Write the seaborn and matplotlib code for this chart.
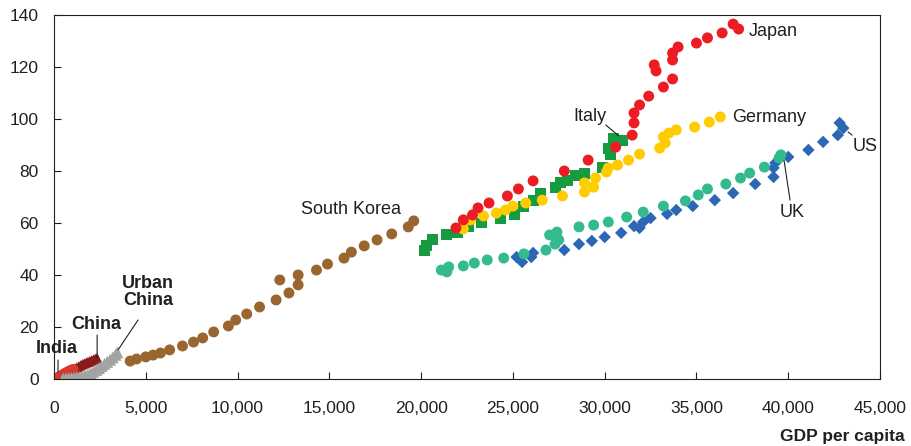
import pandas as pd
import seaborn as sns
import matplotlib.pyplot as plt
from matplotlib.ticker import FuncFormatter

# GDP per capita (x) vs. value (y)
india_x = [150, 200, 250, 290, 330, 370, 410, 450, 490, 530, 570, 610, 650, 700, 750, 800, 860, 920, 980, 1040]
india_y = [0.2, 0.4, 0.5, 0.7, 0.8, 1.0, 1.1, 1.3, 1.5, 1.7, 1.9, 2.0, 2.2, 2.4, 2.6, 2.8, 3.0, 3.2, 3.4, 3.6]

china_x = [150, 250, 350, 450, 550, 650, 750, 850, 950, 1050, 1150, 1250, 1350, 1450, 1550, 1650, 1750, 1850, 1950, 2050, 2150, 2250, 2350]
china_y = [0.3, 0.6, 0.9, 1.3, 1.7, 2.1, 2.5, 2.9, 3.3, 3.7, 4.1, 4.5, 4.9, 5.3, 5.7, 6.0, 6.3, 6.6, 6.9, 7.2, 7.5, 7.8, 8.1]

urban_x = [500, 650, 800, 950, 1100, 1250, 1400, 1550, 1700, 1850, 2000, 2150, 2300, 2450, 2600, 2750, 2900, 3050, 3200, 3350, 3450]
urban_y = [0.1, 0.2, 0.3, 0.4, 0.5, 0.6, 0.8, 1.0, 1.3, 1.7, 2.2, 2.8, 3.5, 4.2, 5.0, 5.8, 6.6, 7.4, 8.3, 9.3, 10.2]

korea_x = [4150, 4500, 5000, 5400, 5800, 6300, 7000, 7600, 8100, 8700, 9500, 9900, 10500, 11200, 12100, 12800,
           13300, 13300, 12300, 14300, 14900, 15800, 16200, 16900, 17600, 18400, 19300, 19600]
korea_y = [6.9, 7.7, 8.5, 9.2, 10.0, 11.2, 12.7, 14.2, 15.8, 18.1, 20.4, 22.7, 25.0, 27.7, 30.4, 33.1,
           36.2, 40.0, 38.1, 41.9, 44.2, 46.5, 48.8, 51.2, 53.5, 55.8, 58.5, 60.8]

italy_x = [20200, 20300, 20600, 21400, 22000, 22600, 23300, 24300, 25100, 25600, 26100, 26500, 27300, 27600,
           28000, 28400, 28900, 29900, 30300, 30200, 30500, 31000]
italy_y = [49.6, 51.5, 53.8, 55.4, 56.5, 58.5, 60.0, 61.9, 63.1, 66.2, 68.8, 71.5, 73.5, 75.4,
           76.2, 78.1, 79.2, 81.2, 86.2, 88.5, 92.7, 91.9]

germany_x = [22300, 22300, 22700, 23400, 24100, 24600, 25000, 25700, 26600, 27700, 28900, 28900, 29400, 29500,
             30100, 30200, 30700, 31300, 31900, 33000, 33300, 33200, 33500, 33900, 34900, 35700, 36300]
germany_y = [57.7, 60.0, 61.2, 62.7, 63.8, 65.0, 66.5, 67.7, 68.8, 70.4, 71.9, 75.4, 73.8, 77.3,
             79.6, 81.2, 82.3, 84.2, 86.5, 88.8, 90.8, 93.1, 94.6, 95.8, 96.9, 98.8, 100.8]

japan_x = [21900, 22300, 22800, 23100, 23700, 24700, 25300, 26100, 27800, 29100, 30600, 31500, 31600, 31600,
           31900, 32400, 33200, 33700, 32800, 32700, 33700, 33700, 34000, 35000, 35600, 36400, 37000, 37300]
japan_y = [58.1, 61.2, 63.1, 65.8, 67.7, 70.4, 73.1, 76.2, 80.0, 84.2, 89.2, 93.8, 98.5, 102.3,
           105.4, 108.8, 112.3, 115.4, 118.5, 120.8, 122.7, 125.4, 127.7, 129.2, 131.2, 133.1, 136.5, 134.6]

us_x = [25200, 25500, 26000, 26100, 27800, 28600, 29300, 30000, 30900, 31600, 31900, 32100, 32500, 33400,
        33900, 34800, 36000, 37000, 38200, 39200, 39200, 39300, 40000, 41100, 41900, 42700, 42800, 43000]
us_y = [46.9, 45.0, 46.9, 48.5, 49.6, 51.9, 53.1, 54.6, 56.2, 58.8, 58.1, 60.4, 61.9, 63.5,
        65.0, 66.5, 68.8, 71.5, 75.0, 77.7, 81.2, 83.1, 85.4, 88.1, 91.2, 93.8, 98.5, 96.5]

uk_x = [21100, 21400, 21500, 22300, 22900, 23600, 24500, 25600, 26800, 27300, 27500, 27000, 27400, 28600,
        29400, 30200, 31200, 32100, 33200, 34400, 35100, 35600, 36600, 37400, 37900, 38700, 39500, 39600]
uk_y = [41.9, 41.2, 43.1, 43.5, 44.6, 45.8, 46.5, 48.1, 49.6, 51.9, 53.5, 55.4, 56.5, 58.5,
        59.2, 60.4, 62.3, 64.2, 66.5, 68.5, 70.8, 73.1, 75.0, 77.3, 79.2, 81.5, 85.0, 86.2]

x_ticks = [0, 5000, 10000, 15000, 20000, 25000, 30000, 35000, 40000, 45000]
y_ticks = [0, 20, 40, 60, 80, 100, 120, 140]

sns.set_style('white')
plt.rcParams['font.family'] = ['Liberation Sans', 'DejaVu Sans']
text_col = '#231f20'

fig = plt.figure(figsize=(9.11, 4.46), dpi=100)
ax = fig.add_axes([54 / 911, 67 / 446, 826 / 911, 364 / 446])

series = [
    (china_x, china_y, '#8b1a1a', '^', 55),
    (india_x, india_y, '#d43a2f', 'o', 65),
    (urban_x, urban_y, '#a3a3a3', '^', 75),
    (korea_x, korea_y, '#9a6630', 'o', 62),
    (italy_x, italy_y, '#169b40', 's', 62),
    (germany_x, germany_y, '#ffcc00', 'o', 62),
    (japan_x, japan_y, '#ed1c24', 'o', 62),
    (us_x, us_y, '#2c67b5', 'D', 40),
    (uk_x, uk_y, '#33bb8f', 'o', 62),
]
for xs, ys, col, mk, sz in series:
    df = pd.DataFrame({'gdp': xs, 'val': ys})
    sns.scatterplot(data=df, x='gdp', y='val', color=col, marker=mk, s=sz,
                    edgecolor='none', linewidth=0, ax=ax, legend=False)

ax.set_xlim(0, 45000)
ax.set_ylim(0, 140)
ax.set_xticks(x_ticks)
ax.set_yticks(y_ticks)
ax.xaxis.set_major_formatter(FuncFormatter(lambda v, p: f'{int(v):,}'))
ax.tick_params(direction='in', length=5, width=0.8, labelsize=12.5, colors=text_col,
               bottom=True, left=True)
ax.tick_params(axis='x', pad=16)
ax.tick_params(axis='y', pad=11)
for sp in ax.spines.values():
    sp.set_color('#231f20')
    sp.set_linewidth(0.8)
ax.set_xlabel('')
ax.set_ylabel('')

# labels
lab = dict(fontsize=13, color=text_col, ha='center', va='center')
ax.text(160, 11.9, 'India', fontweight='bold', **lab)
ax.text(2300, 20.8, 'China', fontweight='bold', **lab)
ax.text(5130, 33.5, 'Urban\nChina', fontweight='bold', linespacing=1.05, **lab)
ax.text(16200, 65.0, 'South Korea', **lab)
ax.text(29200, 100.8, 'Italy', **lab)
ax.text(39200, 133.8, 'Japan', **lab)
ax.text(38950, 100.4, 'Germany', **lab)
ax.text(44200, 89.6, 'US', **lab)
ax.text(40200, 64.2, 'UK', **lab)

line = dict(arrowstyle='-', color=text_col, lw=0.8, shrinkA=0, shrinkB=0)
ax.annotate('', xy=(220, 2.7), xytext=(220, 7.3), arrowprops=line)
ax.annotate('', xy=(2350, 8.1), xytext=(2350, 16.9), arrowprops=line)
ax.annotate('', xy=(3490, 11.2), xytext=(4580, 22.7), arrowprops=line)
ax.annotate('', xy=(30770, 93.5), xytext=(30060, 97.7), arrowprops=line)
ax.annotate('', xy=(39770, 84.2), xytext=(40100, 68.8), arrowprops=line)
ax.annotate('', xy=(43260, 95.0), xytext=(43480, 93.8), arrowprops=line)

fig.text(905 / 911, 1 - 437 / 446, 'GDP per capita', fontsize=12.5, fontweight='bold',
         color=text_col, ha='right', va='center')

fig.savefig('out.png', dpi=100)
